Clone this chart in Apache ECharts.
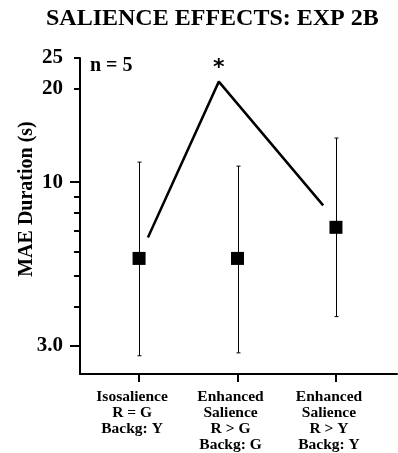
<!DOCTYPE html>
<html>
<head>
<meta charset="utf-8">
<style>
  html, body { margin: 0; width: 100%; height: 100%; background: #fff; }
  #chart-panel { width: 398px; height: 453px; }
</style>
<script src="https://cdnjs.cloudflare.com/ajax/libs/echarts/6.0.0/echarts.min.js"></script>
</head>
<body>
<div id="chart-panel"></div>
<script type="text/javascript">
  // conditions along the x axis (positions 1, 2, 3)
  var categories = ['Isosalience\nR = G\nBackg: Y', 'Enhanced\nSalience\nR > G\nBackg: G', 'Enhanced\nSalience\nR > Y\nBackg: Y']
  var positions = [1, 2, 3]
  // MAE duration (s)
  var means = [5.7, 5.7, 7.17]
  var upper = [11.6, 11.26, 13.85]
  var lower = [2.78, 2.84, 3.71]
  // comparison line drawn above the points, peak marked with *
  var compX = [1.09, 1.81, 2.87]
  var compY = [6.65, 21.0, 8.43]
  var starIndex = 1
  // y axis ticks
  var majorTicks = [3, 10]
  var shortTicks = [4, 5, 6, 7, 8, 9, 20, 25]
  var labelTicks = [3, 10, 20, 25]
  var labelText = ['3.0', '10', '20', '25']
  var yMin = 2.43, yMax = 25

  var serif = "'Liberation Serif', 'Times New Roman', serif"
  var lg = function (v) { return Math.log10(v) }

  var myChart = echarts.init(document.getElementById('chart-panel'))

  var errData = positions.map(function (p, i) { return [p, lg(lower[i]), lg(upper[i])] })
  var meanData = positions.map(function (p, i) { return [p, lg(means[i])] })
  var compData = compX.map(function (x, i) { return [x, lg(compY[i])] })

  var option = {
    animation: false,
    grid: { left: 80, right: 1, top: 58, bottom: 79, outerBoundsMode: 'none', containLabel: false },
    graphic: [
      { type: 'text', left: 212 - 166, top: 7,
        style: { text: 'SALIENCE EFFECTS: EXP 2B', font: 'bold 24px ' + serif, fill: '#000' } },
      { type: 'text', x: 90, y: 66,
        style: { text: 'n = 5', font: 'bold 20px ' + serif, fill: '#000', textVerticalAlign: 'middle' } },
      { type: 'text', x: 27, y: 199, rotation: Math.PI / 2,
        style: { text: 'MAE Duration (s)', font: 'bold 20px ' + serif, fill: '#000',
          textAlign: 'center', textVerticalAlign: 'middle' } }
    ],
    xAxis: {
      type: 'value',
      min: 0.4,
      max: 3.62,
      splitLine: { show: false },
      axisLine: { lineStyle: { color: '#000', width: 2 } },
      axisTick: { customValues: positions, length: 8, lineStyle: { color: '#000', width: 2 } },
      axisLabel: {
        customValues: positions,
        margin: 15,
        color: '#000',
        fontFamily: serif,
        fontWeight: 'bold',
        fontSize: 15.5,
        lineHeight: 16,
        align: 'center',
        verticalAlign: 'top',
        padding: [0, 14, 0, 0],
        formatter: function (v) { return categories[Math.round(v) - 1] }
      }
    },
    yAxis: [
      {
        type: 'value',
        min: lg(yMin),
        max: lg(yMax),
        splitLine: { show: false },
        axisLine: { show: true, lineStyle: { color: '#000', width: 2 } },
        axisTick: { customValues: majorTicks.map(lg), length: 10, lineStyle: { color: '#000', width: 2 } },
        axisLabel: {
          customValues: labelTicks.map(lg),
          margin: 17,
          color: '#000',
          fontFamily: serif,
          fontWeight: 'bold',
          fontSize: 21,
          formatter: function (v) {
            var best = 0
            labelTicks.forEach(function (t, i) {
              if (Math.abs(lg(t) - v) < Math.abs(lg(labelTicks[best]) - v)) best = i
            })
            return labelText[best]
          }
        }
      },
      {
        type: 'value',
        position: 'left',
        offset: 0,
        min: lg(yMin),
        max: lg(yMax),
        splitLine: { show: false },
        axisLine: { show: false },
        axisTick: { customValues: shortTicks.map(lg), interval: 0, length: 6, lineStyle: { color: '#000', width: 2 } },
        axisLabel: { show: false, customValues: shortTicks.map(lg), interval: 0 }
      }
    ],
    series: [
      {
        type: 'custom',
        data: errData,
        encode: { x: 0, y: [1, 2] },
        renderItem: function (params, api) {
          var lo = api.coord([api.value(0), api.value(1)])
          var hi = api.coord([api.value(0), api.value(2)])
          var x = Math.round(lo[0]) + 0.5
          var w = 2
          var st = { stroke: '#000', lineWidth: 1 }
          return {
            type: 'group',
            children: [
              { type: 'line', shape: { x1: x, y1: lo[1], x2: x, y2: hi[1] }, style: st },
              { type: 'line', shape: { x1: x - w, y1: lo[1], x2: x + w, y2: lo[1] }, style: st },
              { type: 'line', shape: { x1: x - w, y1: hi[1], x2: x + w, y2: hi[1] }, style: st }
            ]
          }
        },
        z: 2
      },
      {
        type: 'scatter',
        data: meanData,
        symbol: 'rect',
        symbolSize: 13,
        itemStyle: { color: '#000', opacity: 1 },
        z: 3
      },
      {
        type: 'line',
        data: compData,
        symbol: 'none',
        lineStyle: { color: '#000', width: 2.5 },
        z: 4
      },
      {
        type: 'scatter',
        data: [compData[starIndex]],
        symbolSize: 0,
        itemStyle: { color: '#000', opacity: 1 },
        label: {
          show: true, formatter: '*', position: 'top', distance: 2,
          color: '#000', fontFamily: "'DejaVu Sans', sans-serif", fontWeight: 'bold', fontSize: 22
        },
        z: 5
      }
    ]
  }

  myChart.setOption(option)
</script>
</body>
</html>
